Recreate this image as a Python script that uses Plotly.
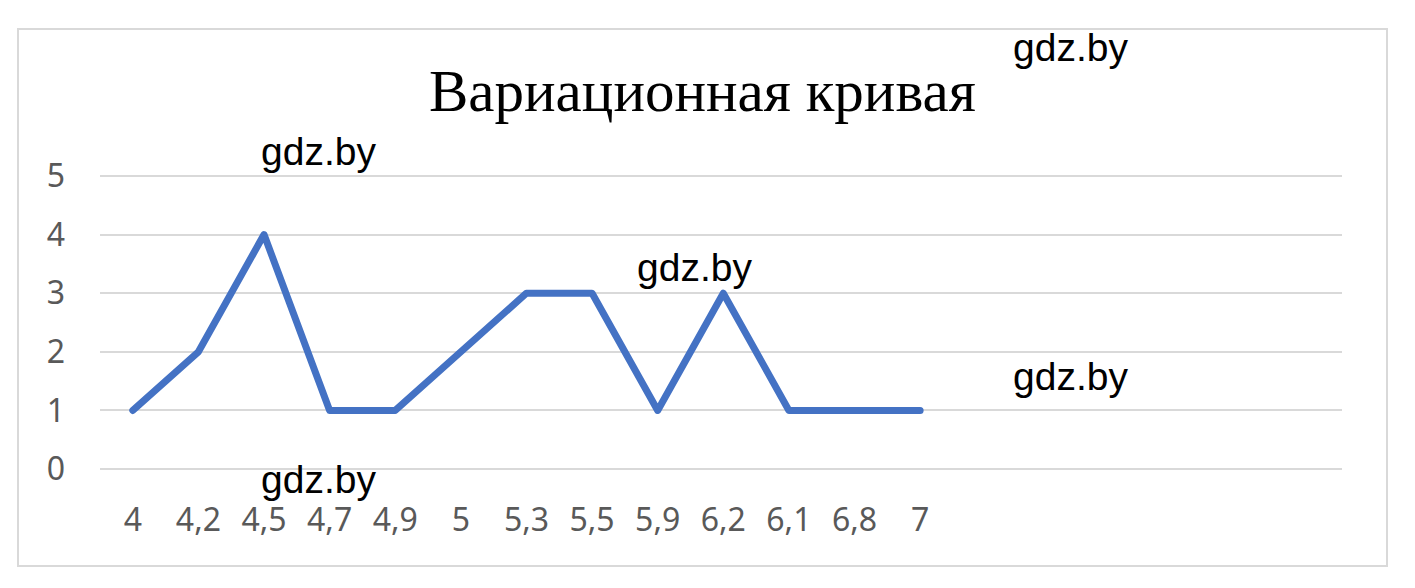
import plotly.graph_objects as go

# Data
categories = ["4", "4,2", "4,5", "4,7", "4,9", "5", "5,3", "5,5", "5,9", "6,2", "6,1", "6,8", "7"]
frequencies = [1, 2, 4, 1, 1, 2, 3, 3, 1, 3, 1, 1, 1]
y_ticks = [0, 1, 2, 3, 4, 5]
title_text = "Вариационная кривая"
watermark = "gdz.by"

W, H = 1415, 588
L, R, T, B = 100, 73, 173, 116
PW, PH = W - L - R, H - T - B


def px_x(px):
    return (px - L) / PW


def px_y(py):
    return (H - B - py) / PH


idx = list(range(len(categories)))

fig = go.Figure()
fig.add_trace(go.Scatter(
    x=idx, y=frequencies, mode="lines",
    line=dict(color="#4472C4", width=7),
    hoverinfo="skip", showlegend=False,
))

fig.update_layout(
    width=W, height=H,
    margin=dict(l=L, r=R, t=T, b=B),
    paper_bgcolor="white", plot_bgcolor="white",
    showlegend=False,
    xaxis=dict(
        range=[-0.5, 18.43],
        tickvals=idx, ticktext=categories,
        showgrid=False, zeroline=False, showline=False,
        ticks="", ticklabelstandoff=26,
        tickfont=dict(family="Noto Sans", size=32, color="#595959"),
        fixedrange=True,
    ),
    yaxis=dict(
        range=[-0.05, 5.05],
        tickvals=y_ticks,
        showgrid=True, gridcolor="#D9D9D9", gridwidth=2,
        zeroline=False, showline=False,
        ticks="", ticklabelstandoff=34,
        tickfont=dict(family="Noto Sans", size=32, color="#595959"),
        fixedrange=True,
    ),
)

# Outer chart border
fig.add_shape(type="rect", xref="paper", yref="paper",
              x0=px_x(18), x1=px_x(1387), y0=px_y(566), y1=px_y(29),
              line=dict(color="#D9D9D9", width=2), fillcolor="rgba(0,0,0,0)", layer="below")

# Title
fig.add_annotation(text=title_text, xref="paper", yref="paper",
                   x=px_x(702), y=px_y(91), xanchor="center", yanchor="middle",
                   showarrow=False,
                   font=dict(family="Liberation Serif", size=59, color="black"))

# Watermarks
for cx, cy in [(1070, 47), (318, 151), (694, 267), (1070, 376), (318, 479)]:
    fig.add_annotation(text=watermark, xref="paper", yref="paper",
                       x=px_x(cx), y=px_y(cy), xanchor="center", yanchor="middle",
                       showarrow=False, borderpad=0,
                       font=dict(family="Liberation Sans", size=39, color="black"))

fig.write_html("out.html", config={"displayModeBar": False},
               post_script="document.body.style.margin='0';document.body.style.padding='0';"
                           "document.querySelectorAll('.scatterlayer path.js-line').forEach("
                           "function(p){p.style.strokeLinejoin='round';p.style.strokeLinecap='round';});")
